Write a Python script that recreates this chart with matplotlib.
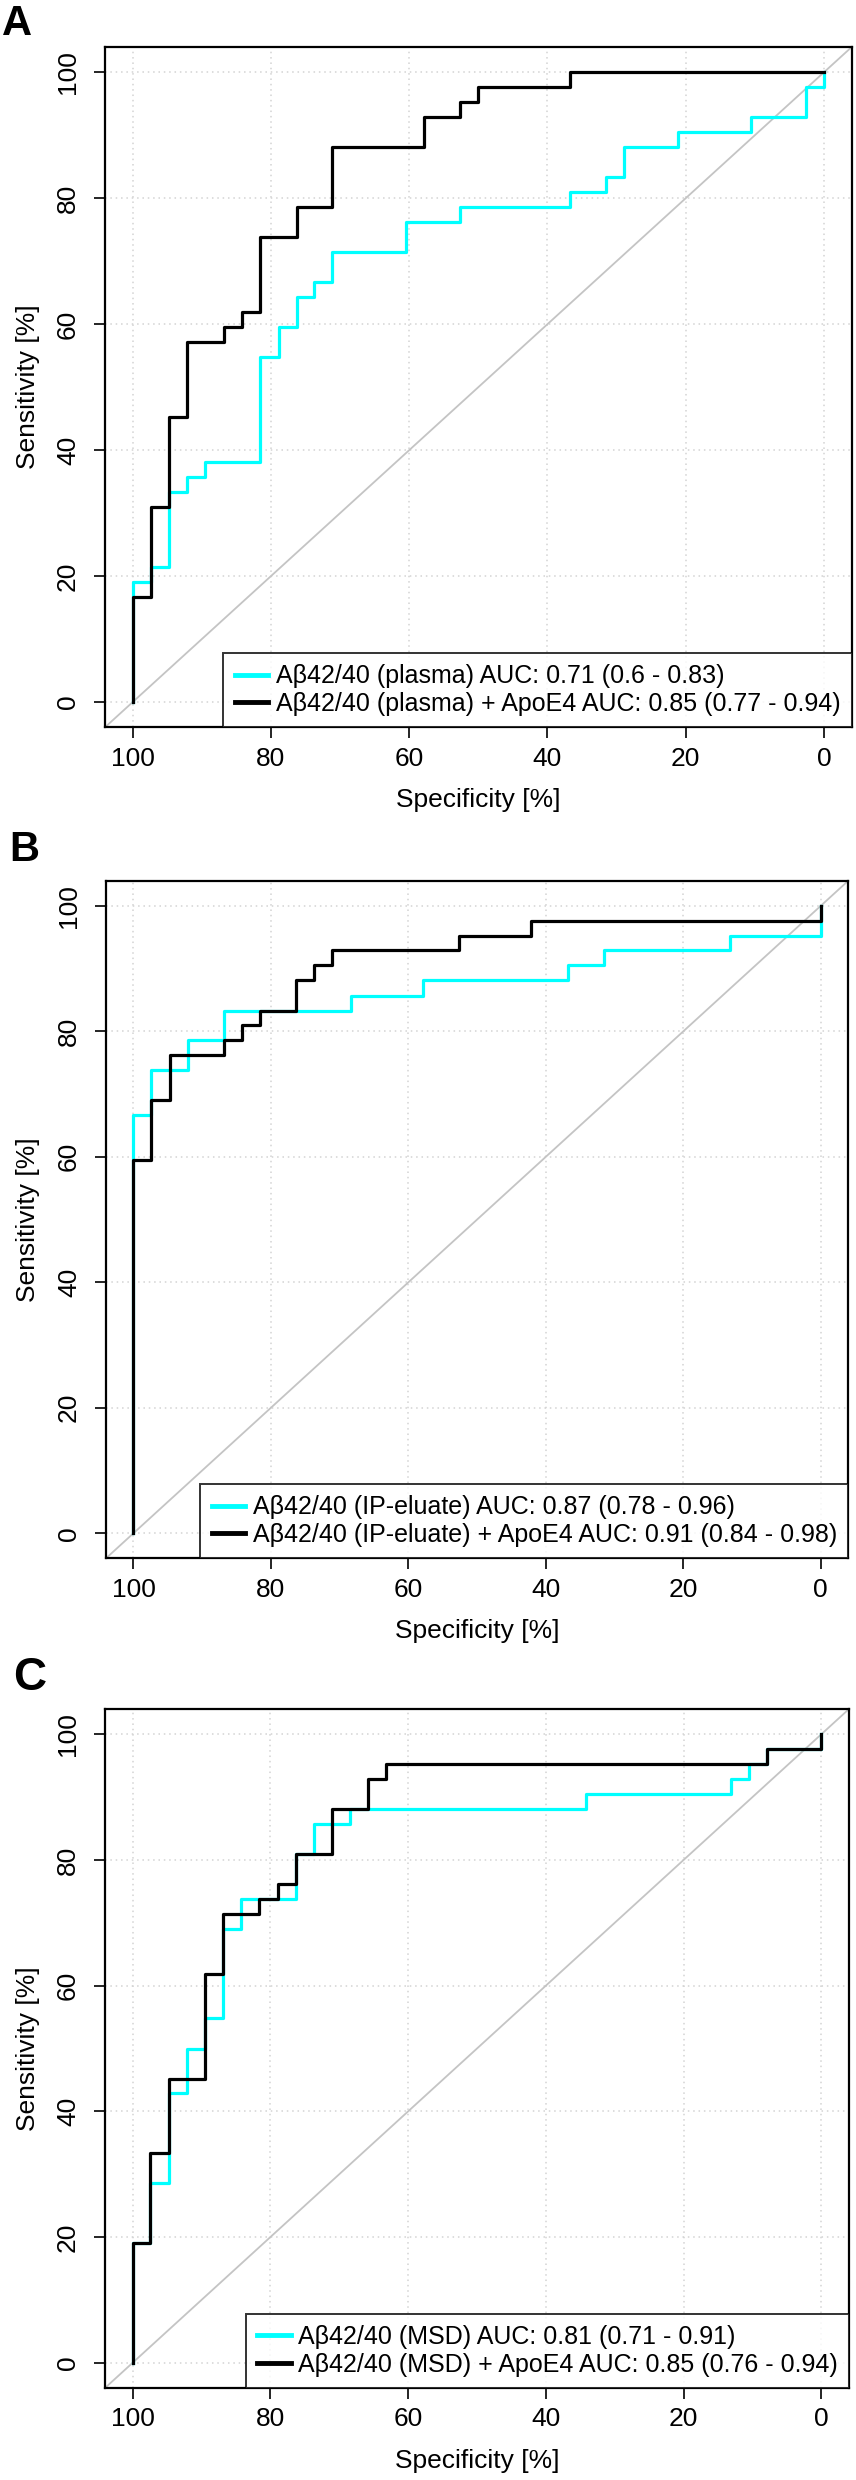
import matplotlib
matplotlib.use('Agg')
import matplotlib.pyplot as plt

plt.rcParams['font.family'] = ['Liberation Sans', 'DejaVu Sans']

# ROC corner points (specificity %, sensitivity %)
A_cyan_spec = [100, 100, 97.4, 94.7, 92.1, 89.5, 81.6, 78.9, 76.3, 73.7, 71.1, 60.5, 52.6, 36.8, 31.6, 28.9, 21.1, 10.5, 2.6, 0]
A_cyan_sens = [0, 19.0, 21.4, 33.3, 35.7, 38.1, 54.8, 59.5, 64.3, 66.7, 71.4, 76.2, 78.6, 81.0, 83.3, 88.1, 90.5, 92.9, 97.6, 100]
A_black_spec = [100, 100, 97.4, 94.7, 92.1, 86.8, 84.2, 81.6, 76.3, 71.1, 57.9, 52.6, 50.0, 36.8, 0]
A_black_sens = [0, 16.7, 31.0, 45.2, 57.1, 59.5, 61.9, 73.8, 78.6, 88.1, 92.9, 95.2, 97.6, 100, 100]

B_cyan_spec = [100, 100, 97.4, 92.1, 86.8, 68.4, 57.9, 36.8, 31.6, 13.2, 0]
B_cyan_sens = [0, 66.7, 73.8, 78.6, 83.3, 85.7, 88.1, 90.5, 92.9, 95.2, 100]
B_black_spec = [100, 100, 97.4, 94.7, 86.8, 84.2, 81.6, 76.3, 73.7, 71.1, 52.6, 42.1, 0]
B_black_sens = [0, 59.5, 69.0, 76.2, 78.6, 81.0, 83.3, 88.1, 90.5, 92.9, 95.2, 97.6, 100]

C_cyan_spec = [100, 100, 97.4, 94.7, 92.1, 89.5, 86.8, 84.2, 76.3, 73.7, 68.4, 34.2, 13.2, 10.5, 7.9, 0]
C_cyan_sens = [0, 19.0, 28.6, 42.9, 50.0, 54.8, 69.0, 73.8, 81.0, 85.7, 88.1, 90.5, 92.9, 95.2, 97.6, 100]
C_black_spec = [100, 100, 97.4, 94.7, 89.5, 86.8, 81.6, 78.9, 76.3, 71.1, 65.8, 63.2, 7.9, 0]
C_black_sens = [0, 19.0, 33.3, 45.2, 61.9, 71.4, 73.8, 76.2, 81.0, 88.1, 92.9, 95.2, 97.6, 100]

A_labels = ['A\u03b242/40 (plasma) AUC: 0.71 (0.6 - 0.83)',
            'A\u03b242/40 (plasma) + ApoE4 AUC: 0.85 (0.77 - 0.94)']
B_labels = ['A\u03b242/40 (IP-eluate) AUC: 0.87 (0.78 - 0.96)',
            'A\u03b242/40 (IP-eluate) + ApoE4 AUC: 0.91 (0.84 - 0.98)']
C_labels = ['A\u03b242/40 (MSD) AUC: 0.81 (0.71 - 0.91)',
            'A\u03b242/40 (MSD) + ApoE4 AUC: 0.85 (0.76 - 0.94)']

ticks = [0, 20, 40, 60, 80, 100]

W, H = 856, 2480
fig = plt.figure(figsize=(W / 100, H / 100), dpi=100)

# panel boxes in pixels: left, top, right, bottom
boxes = [(105, 47, 851.7, 727.3), (106, 880.7, 848.3, 1558.3), (105, 1709, 849, 2388)]
letters = [('A', 2, 4, 30), ('B', 9, 830, 30), ('C', 13, 1656, 33)]
panels = [(A_cyan_spec, A_cyan_sens, A_black_spec, A_black_sens, A_labels),
          (B_cyan_spec, B_cyan_sens, B_black_spec, B_black_sens, B_labels),
          (C_cyan_spec, C_cyan_sens, C_black_spec, C_black_sens, C_labels)]

for (l, t, r, b), (cs, cy, ks, ky, labs), (let, lx, ly, lsz) in zip(boxes, panels, letters):
    ax = fig.add_axes([l / W, 1 - b / H, (r - l) / W, (b - t) / H])
    ax.set_xlim(104, -4)
    ax.set_ylim(-4, 104)
    for v in ticks:
        ax.axvline(v, color='#d3d3d3', lw=1.1, ls=(0, (1, 2.5)), zorder=0)
        ax.axhline(v, color='#d3d3d3', lw=1.1, ls=(0, (1, 2.5)), zorder=0)
    ax.axline((100, 0), (0, 100), color='#c4c4c4', lw=1.3, zorder=1)
    ax.plot(cs, cy, drawstyle='steps-post', color='#00ffff', lw=2.3, label=labs[0], zorder=2)
    ax.plot(ks, ky, drawstyle='steps-post', color='black', lw=2.3, label=labs[1], zorder=3)
    ax.set_xticks(ticks)
    ax.set_yticks(ticks)
    ax.tick_params(axis='both', direction='out', length=8, width=1.2, labelsize=19, color='black')
    ax.tick_params(axis='x', pad=6)
    ax.tick_params(axis='y', pad=10)
    for tl in ax.get_yticklabels():
        tl.set_rotation(90)
        tl.set_va('center')
    for sp in ax.spines.values():
        sp.set_linewidth(1.6)
    ax.set_xlabel('Specificity [%]', fontsize=19)
    ax.set_ylabel('Sensitivity [%]', fontsize=19)
    ax.xaxis.set_label_coords(0.5, -73.0 / (b - t))
    ax.xaxis.label.set_va('center')
    ax.yaxis.set_label_coords(-(l - 28) / (r - l), 0.5)
    ax.yaxis.label.set_va('center')
    leg = ax.legend(loc='lower right', fontsize=18, frameon=True, fancybox=False,
                    borderaxespad=0, borderpad=0.45, labelspacing=0.15,
                    handlelength=1.35, handletextpad=0.3)
    leg.get_frame().set_edgecolor('black')
    leg.get_frame().set_linewidth(1.4)
    for h in leg.legend_handles:
        h.set_linewidth(3.5)
    fig.text(lx / W, 1 - ly / H, let, fontsize=lsz, fontweight='bold', ha='left', va='top')

fig.savefig('out.png', dpi=100)
